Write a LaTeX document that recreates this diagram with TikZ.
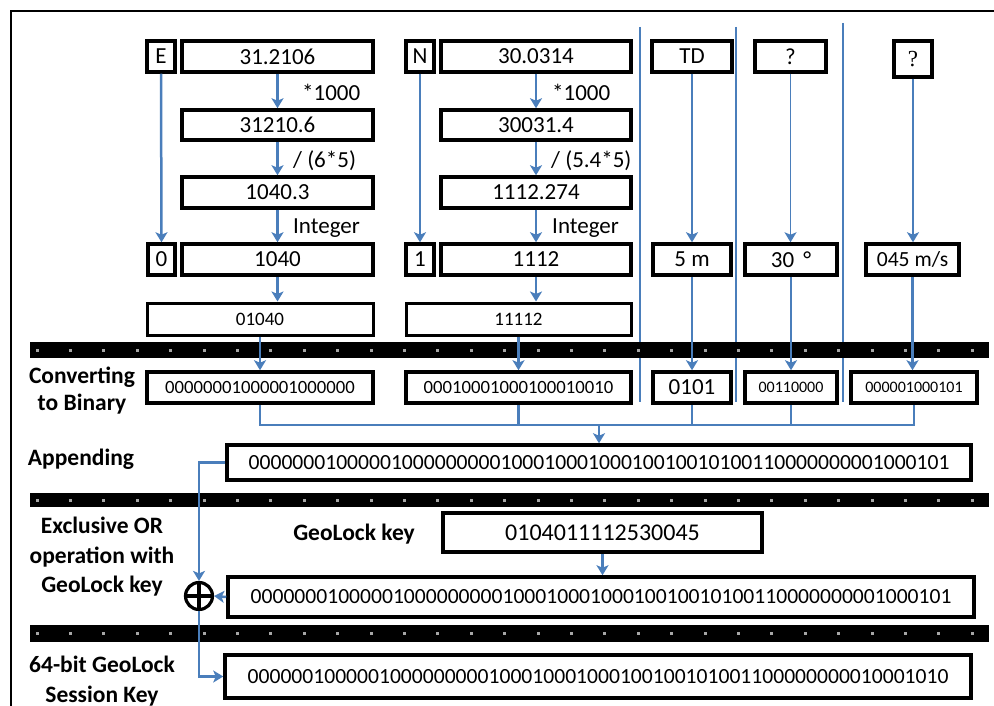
\documentclass[tikz,border=0pt]{standalone}
\usepackage{fontspec}
\setmainfont{Carlito}
\newfontfamily\serifq{Liberation Serif}
\usetikzlibrary{arrows.meta}
\definecolor{ablue}{RGB}{74,126,187}
\begin{document}
\begin{tikzpicture}[x=1pt,y=-1pt,
  bx/.style={draw=black,line width=3.5pt,inner sep=0pt,font=\fontsize{23}{28}\selectfont},
  smallbx/.style={bx,line width=3pt,font=\fontsize{19}{22}\selectfont},
  binbx/.style={bx,font=\fontsize{18.7}{22}\selectfont},
  tinybx/.style={bx,font=\fontsize{16}{20}\selectfont},
  longbx/.style={bx,font=\fontsize{21.6}{26}\selectfont},
  oplab/.style={font=\fontsize{23}{28}\selectfont,inner sep=0pt,anchor=west},
  lab/.style={font=\bfseries\fontsize{23.5}{29.5}\selectfont,inner sep=0pt,align=center},
  arr/.style={draw=ablue,line width=2.5pt,-{Stealth[length=10pt,width=12pt,inset=2.5pt]}},
  bl/.style={draw=ablue,line width=2.5pt},
]
\useasboundingbox (0,0) rectangle (994,706);
% frame
\draw[line width=2pt] (11,706) -- (11,11) -- (994,11);

% vertical separators
\draw[bl] (640,27) -- (640,402);
\draw[bl] (736,27) -- (736,402);
\draw[bl] (843,23) -- (843,402);

% separator bars
\foreach \yy/\hh in {342/16,493/14,625/17}{
  \fill (30,\yy) rectangle (989,\yy+\hh);
  \foreach \i in {0,...,28}{
    \fill[gray!70] (37+33.4*\i-1.5,\yy+\hh/2-1.5) rectangle ++(3,3);
  }
}

% row 1
\node[bx,minimum width=28pt,minimum height=31pt] (E) at (161,56.5) {E};
\node[bx,minimum width=191pt,minimum height=31pt] (e1) at (277.5,56.5) {31.2106};
\node[bx,minimum width=28pt,minimum height=31pt] (N) at (420,56.5) {N};
\node[bx,minimum width=190pt,minimum height=31pt] (n1) at (536,56.5) {30.0314};
\node[bx,minimum width=80pt,minimum height=31pt] (td) at (692,56.5) {TD};
\node[bx,minimum width=71pt,minimum height=31pt] (q1) at (790.5,56.5) {?};
\node[bx,minimum width=38pt,minimum height=36pt] (q2) at (913,59) {\serifq ?};

% row 2
\node[bx,minimum width=191pt,minimum height=30pt] (e2) at (277.5,125) {31210.6};
\node[bx,minimum width=190pt,minimum height=30pt] (n2) at (536,125) {30031.4};
% row 3
\node[bx,minimum width=191pt,minimum height=31pt] (e3) at (277.5,192.5) {1040.3};
\node[bx,minimum width=190pt,minimum height=31pt] (n3) at (536,192.5) {1112.274};
% row 4
\node[bx,minimum width=27pt,minimum height=31pt] (z0) at (161.5,259.5) {0};
\node[bx,minimum width=191pt,minimum height=31pt] (e4) at (277.5,259.5) {1040};
\node[bx,minimum width=28pt,minimum height=31pt] (z1) at (420,259.5) {1};
\node[bx,minimum width=190pt,minimum height=31pt] (n4) at (536,259.5) {1112};
\node[bx,minimum width=78pt,minimum height=31pt] (td2) at (692,259.5) {5 m};
\node[bx,minimum width=92pt,minimum height=31pt] (dg) at (791,259.5) {30\hspace{9pt}°};
\node[bx,minimum width=93pt,minimum height=31pt,font=\fontsize{21.6}{26}\selectfont] (sp) at (912.5,259.5) {045 m/s};
% row 5
\node[smallbx,minimum width=226pt,minimum height=32pt] (e5) at (260,319) {01040};
\node[smallbx,minimum width=225pt,minimum height=32pt] (n5) at (518.5,319) {11112};
% row 6 binary
\node[binbx,minimum width=226pt,minimum height=31pt] (b1) at (260,387.5) {00000001000001000000};
\node[binbx,minimum width=225pt,minimum height=31pt] (b2) at (518.5,387.5) {00010001000100010010};
\node[bx,minimum width=78pt,minimum height=31pt] (b3) at (692,387.5) {0101};
\node[tinybx,minimum width=92pt,minimum height=31pt] (b4) at (791,387.5) {00110000};
\node[tinybx,minimum width=126pt,minimum height=31pt] (b5) at (914,387.5) {000001000101};

% appending
\node[longbx,minimum width=744pt,minimum height=35pt] (app) at (599,462.5) {0000000100000100000000010001000100010010010100110000000001000101};
% key
\node[bx,font=\fontsize{24}{28}\selectfont,minimum width=319pt,minimum height=39pt] (key) at (602.5,532.5) {0104011112530045};
\node[longbx,minimum width=746pt,minimum height=40pt] (xb) at (601,597) {0000000100000100000000010001000100010010010100110000000001000101};
\node[longbx,minimum width=746pt,minimum height=43pt] (fin) at (598,676.5) {0000001000001000000000100010001000100100101001100000000010001010};

% xor symbol
\node[draw=black,circle,line width=3.2pt,minimum size=27pt,inner sep=0pt] (xo) at (199,596) {};
\draw[line width=3.2pt] (xo.north) -- (xo.south) (xo.west) -- (xo.east);

% op labels
\node[oplab] (m1) at (302,92) {*1000};
\node[oplab] (d1) at (293,161) {/ (6*5)};
\node[oplab] (i1) at (293,228) {Integer};
\node[oplab] (m2) at (552,92) {*1000};
\node[oplab] (d2) at (551,161) {/ (5.4*5)};
\node[oplab] (i2) at (552,228) {Integer};

% side labels
\node[lab] (lc) at (82,391) {Converting\\[-2.5pt]to Binary};
\node[lab] (la) at (81,459) {Appending};
\node[lab] (lx) at (102,557) {Exclusive OR\\operation with\\GeoLock key};
\node[lab] (lk) at (354,534) {GeoLock key};
\node[lab] (ls) at (102,681) {64-bit GeoLock\\Session Key};

% arrows column E / N
\draw[arr] (E.south) -- (z0.north);
\draw[arr] (N.south) -- (z1.north);
\draw[arr] (e1.south) -- (e2.north);
\draw[arr] (e2.south) -- (e3.north);
\draw[arr] (e3.south) -- (e4.north);
\draw[arr] (e4.south) -- (e4.south |- e5.north);
\draw[arr] (e5.south) -- (e5.south |- b1.north);
\draw[arr] (n1.south) -- (n2.north);
\draw[arr] (n2.south) -- (n3.north);
\draw[arr] (n3.south) -- (n4.north);
\draw[arr] (n4.south) -- (n4.south |- n5.north);
\draw[arr] (n5.south) -- (n5.south |- b2.north);
\draw[arr] (td.south) -- (td2.north);
\draw[arr,line width=1.5pt] (q1.south) -- (q1.south |- dg.north);
\draw[arr] (q2.south) -- (q2.south |- sp.north);
\draw[arr] (td2.south) -- (b3.north);
\draw[arr] (dg.south) -- (b4.north);
\draw[arr] (sp.south) -- (sp.south |- b5.north);

% merge
\coordinate (mrg) at (599,425);
\draw[bl] (b1.south) -- (b1.south |- mrg) -- (b5.south |- mrg) -- (b5.south);
\draw[bl] (b2.south) -- (b2.south |- mrg);
\draw[bl] (b3.south) -- (b3.south |- mrg);
\draw[bl] (b4.south) -- (b4.south |- mrg);
\draw[arr] (mrg) -- (mrg |- app.north);

% xor connections
\draw[arr] (app.west) -| (xo.north);
\draw[arr] (key.south) -- (key.south |- xb.north);
\draw[arr] (xb.west) -- (xo.east);
\draw[arr] (xo.south) |- (fin.west);
\end{tikzpicture}
\end{document}
